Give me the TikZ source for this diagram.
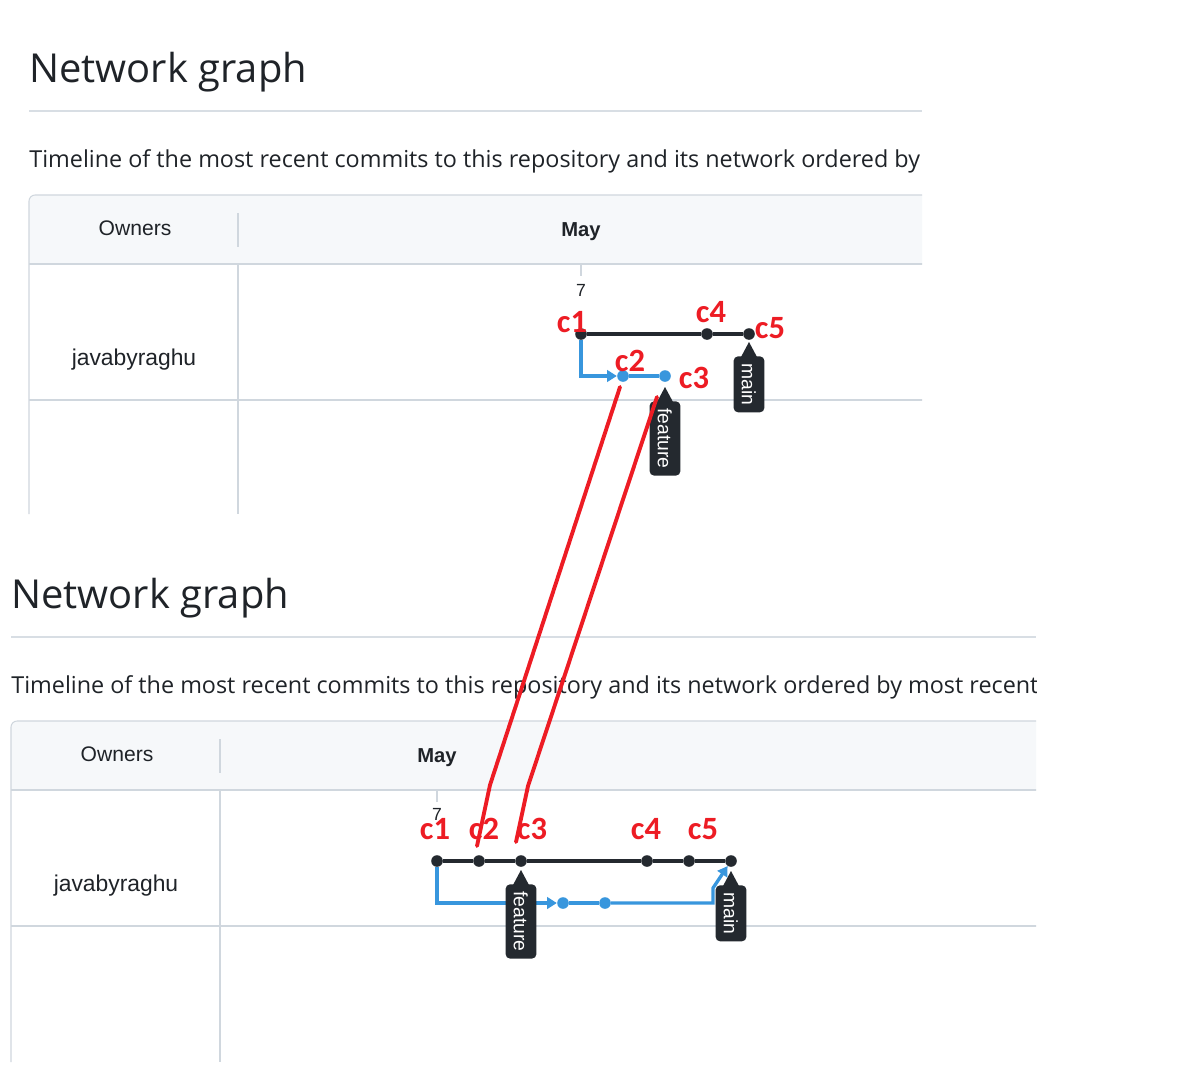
\documentclass[tikz,border=0pt]{standalone}
\usepackage{fontspec}
\setmainfont{Open Sans}
\newfontfamily\arialfont{Liberation Sans}
\newfontfamily\notefont{Carlito}
\usetikzlibrary{arrows.meta,calc}

\definecolor{ghtext}{RGB}{31,35,40}
\definecolor{ghline}{RGB}{208,215,222}
\definecolor{ghrule}{RGB}{216,222,228}
\definecolor{ghhead}{RGB}{246,248,250}
\definecolor{ghdark}{RGB}{36,41,47}
\definecolor{ghblue}{RGB}{56,150,221}
\definecolor{notered}{RGB}{237,28,36}

\begin{document}
\begin{tikzpicture}[x=0.02cm, y=-0.02cm,
    commit/.style ={circle, fill=ghdark, inner sep=0pt, minimum size=6.6pt},
    bcommit/.style ={commit, fill=ghblue},
    master/.style ={draw=ghdark, line width=2pt},
    branch/.style ={draw=ghblue, line width=1.9pt},
    tip/.style ={-{Triangle[length=5.5pt, width=6.5pt]}},
    tag/.style ={fill=ghdark, text=white, rounded corners=2.5pt, rotate=-90, anchor=west,
                 inner xsep=4pt, inner ysep=0pt, minimum height=17.5pt, text height=8pt, text depth=0pt,
                 font=\arialfont\fontsize{11}{13}\selectfont},
    cname/.style ={text=notered, inner sep=0pt, font=\notefont\bfseries\fontsize{18.5}{20}\selectfont},
    title/.style ={anchor=base west, inner sep=0pt, text=ghtext, font=\fontsize{22.7}{26}\selectfont},
    intro/.style ={anchor=base west, inner sep=0pt, text=ghtext, font=\fontsize{13.3}{16}\selectfont},
    cell/.style ={anchor=base, inner sep=0pt, text=ghtext, font=\arialfont\fontsize{12}{14}\selectfont},
    day/.style ={inner sep=0pt, text=ghtext, font=\arialfont\fontsize{10}{12}\selectfont},
    grid/.style ={draw=ghline, line width=0.6pt}]

   \useasboundingbox (0,0) rectangle (1200,1072);
   \fill[white] (0,0) rectangle (1200,1072);

   % first screenshot: before the rebase
   \begin{scope}
   \clip (0,0) rectangle (922,514);
   \node[title] (head1) at (29,82) {Network graph};
   \draw[ghrule, line width=0.6pt] (29,111) -- (922,111);
   \node[intro] (intro1) at (29,167) {Timeline of the most recent commits to this repository and its network ordered by most recently pushed.};
   \fill[ghhead] (29,264) [rounded corners=3.5pt] -- (29,195) -- (1000,195) [sharp corners] -- (1000,264) -- cycle;
   \draw[grid, rounded corners=3.5pt] (29,514) -- (29,195) -- (1000,195);
   \draw[grid, line width=1.1pt] (29,264) -- (1000,264);
   \draw[grid] (29,400) -- (1000,400);
   \draw[grid] (238,264) -- (238,514);
   \draw[grid, line width=0.8pt] (238,213) -- (238,247);
   \draw[grid] (581,264) -- (581,276);
   \node[cell] (own1) at (135,235) {Owners};
   \node[cell, font=\arialfont\bfseries\fontsize{11.5}{14}\selectfont] (may1) at (581,236) {May};
   \node[cell, font=\arialfont\fontsize{13}{15}\selectfont] (user1) at (134,365) {javabyraghu};
   \node[day] (day1) at (581,290) {7};
   \end{scope}

   \node[commit] (c1) at (581,334) {};
   \node[bcommit] (c2) at (623,376) {};
   \node[bcommit] (c3) at (665,376) {};
   \node[commit] (c4) at (707,334) {};
   \node[commit] (c5) at (749,334) {};

   \draw[master] (c1) -- (c4);
   \draw[master] (c4) -- (c5);
   \draw[branch, tip] (c1) |- (c2);
   \draw[branch] (c2) -- (c3);

   \node[tag] (feat1) at (665,401) {feature};
   \node[tag] (main1) at (749,356) {main};
   \fill[ghdark] ($(feat1.west)+(-8,1)$) -- ($(feat1.west)+(0,-14)$) -- ($(feat1.west)+(8,1)$) -- cycle;
   \fill[ghdark] ($(main1.west)+(-8,1)$) -- ($(main1.west)+(0,-14)$) -- ($(main1.west)+(8,1)$) -- cycle;

   \node[cname] (n1) at (572,322) {c1};
   \node[cname] (n2) at (630,361) {c2};
   \node[cname] (n3) at (694,378) {c3};
   \node[cname] (n4) at (711,312) {c4};
   \node[cname] (n5) at (770,328) {c5};

   % second screenshot: after the rebase
   \begin{scope}
   \clip (0,515) rectangle (1036,1062);
   \node[title] (head2) at (11,608) {Network graph};
   \draw[ghrule, line width=0.6pt] (11,637) -- (1036,637);
   \node[intro] (intro2) at (11,693) {Timeline of the most recent commits to this repository and its network ordered by most recently pushed.};
   \fill[ghhead] (11,790) [rounded corners=3.5pt] -- (11,721) -- (1100,721) [sharp corners] -- (1100,790) -- cycle;
   \draw[grid, rounded corners=3.5pt] (11,1062) -- (11,721) -- (1100,721);
   \draw[grid, line width=1.1pt] (11,790) -- (1100,790);
   \draw[grid] (11,926) -- (1100,926);
   \draw[grid] (220,790) -- (220,1062);
   \draw[grid, line width=0.8pt] (220,739) -- (220,773);
   \draw[grid] (437,790) -- (437,802);
   \node[cell] (own2) at (117,761) {Owners};
   \node[cell, font=\arialfont\bfseries\fontsize{11.5}{14}\selectfont] (may2) at (437,762) {May};
   \node[cell, font=\arialfont\fontsize{13}{15}\selectfont] (user2) at (116,891) {javabyraghu};
   \node[day] (day2) at (437,814) {7};
   \end{scope}

   \node[commit] (d1) at (437,861) {};
   \node[commit] (d2) at (479,861) {};
   \node[commit] (d3) at (521,861) {};
   \node[commit] (d4) at (647,861) {};
   \node[commit] (d5) at (689,861) {};
   \node[commit] (d6) at (731,861) {};
   \node[bcommit] (b1) at (563,903) {};
   \node[bcommit] (b2) at (605,903) {};
   \coordinate (bend) at (713,888);

   \draw[master] (d1) -- (d2);
   \draw[master] (d2) -- (d3);
   \draw[master] (d3) -- (d4);
   \draw[master] (d4) -- (d5);
   \draw[master] (d5) -- (d6);
   \draw[branch, tip] (d1) |- (b1);
   \draw[branch] (b1) -- (b2);
   \draw[branch, tip] (b2) -| (bend) -- (d6);

   \node[tag] (feat2) at (521,884) {feature};
   \node[tag] (main2) at (731,885) {main};
   \fill[ghdark] ($(feat2.west)+(-8,1)$) -- ($(feat2.west)+(0,-14)$) -- ($(feat2.west)+(8,1)$) -- cycle;
   \fill[ghdark] ($(main2.west)+(-8,1)$) -- ($(main2.west)+(0,-14)$) -- ($(main2.west)+(8,1)$) -- cycle;

   \node[cname] (m1) at (435,829) {c1};
   \node[cname] (m2) at (484,829) {c2};
   \node[cname] (m3) at (532,829) {c3};
   \node[cname] (m4) at (646,829) {c4};
   \node[cname] (m5) at (703,829) {c5};

   % hand drawn links c2 -> c2, c3 -> c3
   \coordinate (r1a) at (620,387);
   \coordinate (r1m) at (490,785);
   \coordinate (r1b) at (477,846);
   \coordinate (r2a) at (657,397);
   \coordinate (r2m) at (528,786);
   \coordinate (r2b) at (516,842);
   \draw[notered, line width=2.2pt, line cap=round] (r1a) -- (r1m) -- (r1b);
   \draw[notered, line width=2.2pt, line cap=round] (r2a) -- (r2m) -- (r2b);

 \end{tikzpicture}
\end{document}
